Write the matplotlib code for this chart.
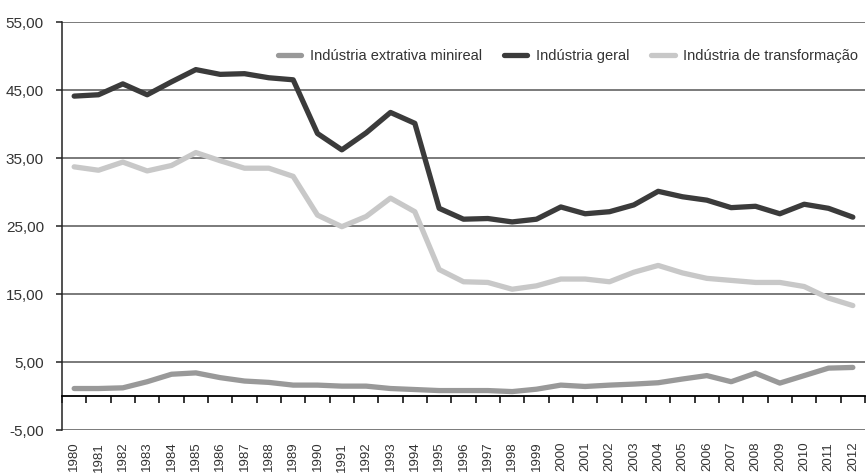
import numpy as np
import matplotlib
matplotlib.use('Agg')
import matplotlib.pyplot as plt
from matplotlib.ticker import FuncFormatter, FixedLocator

plt.rcParams['font.family'] = ['Liberation Sans', 'DejaVu Sans']

years = list(range(1980, 2013))

extrativa = [1.1, 1.1, 1.2, 2.1, 3.2, 3.4, 2.7, 2.2, 2.0, 1.6, 1.6, 1.45, 1.45, 1.1, 0.95, 0.8,
             0.8, 0.8, 0.65, 1.0, 1.6, 1.4, 1.6, 1.75, 1.95, 2.5, 3.0, 2.1, 3.35, 1.9, 3.0, 4.1, 4.2]
geral = [44.1, 44.3, 45.9, 44.3, 46.2, 48.0, 47.3, 47.4, 46.8, 46.5, 38.6, 36.2, 38.7, 41.7, 40.1, 27.6,
         26.0, 26.1, 25.6, 26.0, 27.8, 26.8, 27.1, 28.1, 30.1, 29.3, 28.8, 27.7, 27.9, 26.8, 28.2, 27.6, 26.3]
transformacao = [33.7, 33.2, 34.4, 33.1, 33.9, 35.8, 34.6, 33.5, 33.5, 32.3, 26.6, 24.9, 26.4, 29.1, 27.1, 18.6,
                 16.8, 16.7, 15.7, 16.2, 17.2, 17.2, 16.8, 18.2, 19.2, 18.1, 17.3, 17.0, 16.7, 16.7, 16.1, 14.4, 13.3]

series = [
    ('Indústria extrativa minireal', extrativa, '#999999'),
    ('Indústria geral', geral, '#3b3b3b'),
    ('Indústria de transformação', transformacao, '#c8c8c8'),
]

fig = plt.figure(figsize=(8.66, 4.74), dpi=100)
ax = fig.add_axes([62 / 866, 44 / 474, 803 / 866, 408 / 474])

x = np.arange(len(years))
for name, vals, col in series:
    ax.plot(x, vals, color=col, lw=3.8, solid_capstyle='round', solid_joinstyle='round',
            label=name, zorder=3)

ax.set_xlim(-0.5, len(years) - 0.5)
ax.set_ylim(-5, 55)
ax.set_yticks(np.arange(-5, 56, 10))
ax.yaxis.set_major_formatter(FuncFormatter(lambda v, p: f'{v:.2f}'.replace('.', ',')))
ax.grid(axis='y', color='#7a7a7a', lw=1.4, zorder=1)
ax.set_axisbelow(True)

# x axis sits on zero, labels pushed below the -5 line
ax.spines['bottom'].set_position(('data', 0))
ax.spines['bottom'].set_color('black')
ax.spines['bottom'].set_linewidth(1.3)
ax.spines['top'].set_visible(False)
ax.spines['right'].set_visible(False)
ax.spines['left'].set_color('#222222')
ax.spines['left'].set_linewidth(1.1)

ax.set_xticks(x)
ax.set_xticklabels([str(y) for y in years], rotation=90, va='top')
ax.xaxis.set_minor_locator(FixedLocator(np.arange(-0.5, len(years), 1.0)))
ax.tick_params(axis='x', which='major', length=0, pad=33, labelsize=9.5, labelcolor='#333333')
ax.tick_params(axis='x', which='minor', length=5, width=1.1, direction='out', color='black')
ax.tick_params(axis='y', length=4, width=1.1, color='#222222', labelsize=11, labelcolor='#333333', pad=9)

ax.legend(loc='upper right', bbox_to_anchor=(1.008, 0.965), ncol=3, frameon=False, fontsize=10.5,
          handlelength=1.6, handletextpad=0.6, columnspacing=1.5, labelcolor='#333333')

fig.savefig('out.png', dpi=100)
